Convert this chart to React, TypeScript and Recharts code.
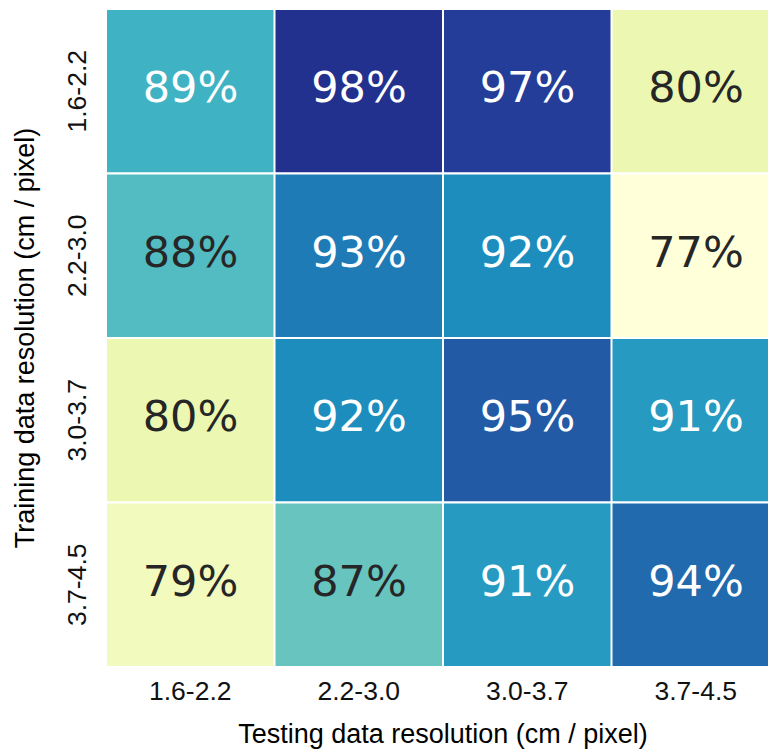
import React, { ReactElement } from 'react';
import { BarChart, Bar, XAxis, YAxis } from 'recharts';

// resolution bins (cm / pixel)
const testingBins = ['1.6-2.2', '2.2-3.0', '3.0-3.7', '3.7-4.5'];
const trainingBins = ['1.6-2.2', '2.2-3.0', '3.0-3.7', '3.7-4.5'];

// accuracy (%) per training row, columns follow testingBins
const train16 = [89, 98, 97, 80];
const train22 = [88, 93, 92, 77];
const train30 = [80, 92, 95, 91];
const train37 = [79, 87, 91, 94];
const accuracy = [train16, train22, train30, train37];

const rowTicks = [0.5, 1.5, 2.5, 3.5];

const VMIN = 77;
const VMAX = 100.6;
const YLGNBU = ['#ffffd9', '#edf8b1', '#c7e9b4', '#7fcdbb', '#41b6c4', '#1d91c0', '#225ea8', '#253494', '#081d58'];

const hex = (h: string) => [1, 3, 5].map((i) => parseInt(h.slice(i, i + 2), 16));

const colorFor = (v: number) => {
  const t = Math.max(0, Math.min(1, (v - VMIN) / (VMAX - VMIN)));
  const pos = t * (YLGNBU.length - 1);
  const i = Math.min(Math.floor(pos), YLGNBU.length - 2);
  const f = pos - i;
  const a = hex(YLGNBU[i]);
  const b = hex(YLGNBU[i + 1]);
  const c = a.map((x, k) => Math.round(x + (b[k] - x) * f));
  return { fill: `rgb(${c[0]},${c[1]},${c[2]})`, t };
};

// one stacked segment per training row, each a unit tall
const chartData = testingBins.map((test) => {
  const row: any = { test };
  trainingBins.forEach((_, r) => (row[`r${r}`] = 1));
  return row;
});

const HeatCell = (props: any) => {
  const { x, y, width, height, index, row } = props;
  const value = accuracy[row][index];
  const { fill, t } = colorFor(value);
  const top = Math.min(y, y + height);
  const h = Math.abs(height);
  return (
    <g>
      <rect x={x} y={top} width={width} height={h} fill={fill} stroke="#fff" strokeWidth={2} />
      <text
        x={x + width / 2}
        y={top + h / 2}
        dy="0.26em"
        textAnchor="middle"
        fontFamily="DejaVu Sans"
        fontSize={43}
        fill={t < 0.5 ? '#262626' : '#ffffff'}
      >
        {value}%
      </text>
    </g>
  );
};

const XTick = (props: any) => {
  const { x, y, payload } = props;
  return (
    <text x={x} y={y} dy="0.71em" textAnchor="middle" fontFamily="Liberation Sans" fontSize={26.5} fill="#111">
      {payload.value}
    </text>
  );
};

const YTick = (props: any) => {
  const { x, y, payload } = props;
  return (
    <text
      x={x}
      y={y}
      transform={`rotate(-90, ${x}, ${y})`}
      textAnchor="middle"
      fontFamily="Liberation Sans"
      fontSize={26.5}
      fill="#111"
    >
      {trainingBins[Math.floor(payload.value)]}
    </text>
  );
};

function App(): ReactElement {
  return (
    <div style={{ position: 'absolute', left: 0, top: 0, width: 768, height: 750, overflow: 'hidden', background: '#fff' }}>
      <BarChart
        width={790}
        height={750}
        data={chartData}
        margin={{ top: 9, right: 10, bottom: 0, left: 0 }}
        barCategoryGap={0}
        barGap={0}
      >
        <XAxis
          dataKey="test"
          height={83}
          axisLine={false}
          tickLine={false}
          tickSize={0}
          tickMargin={14}
          tick={<XTick />}
          label={{
            value: 'Testing data resolution (cm / pixel)',
            position: 'insideBottom',
            offset: 7,
            fontSize: 27,
            fontFamily: 'Liberation Sans',
            fill: '#000',
          }}
        />
        <YAxis
          type="number"
          domain={[0, 4]}
          ticks={rowTicks}
          reversed
          width={106}
          axisLine={false}
          tickLine={false}
          tickSize={0}
          tickMargin={20}
          tick={<YTick />}
          label={{
            value: 'Training data resolution (cm / pixel)',
            position: 'insideLeft',
            angle: -90,
            offset: 24,
            fontSize: 27,
            fontFamily: 'Liberation Sans',
            fill: '#000',
            style: { textAnchor: 'middle' },
          }}
        />
        {trainingBins.map((_, r) => (
          <Bar
            key={r}
            dataKey={`r${r}`}
            stackId="grid"
            isAnimationActive={false}
            shape={(p: any) => <HeatCell {...p} row={r} />}
          />
        ))}
      </BarChart>
    </div>
  );
}

export default App;
